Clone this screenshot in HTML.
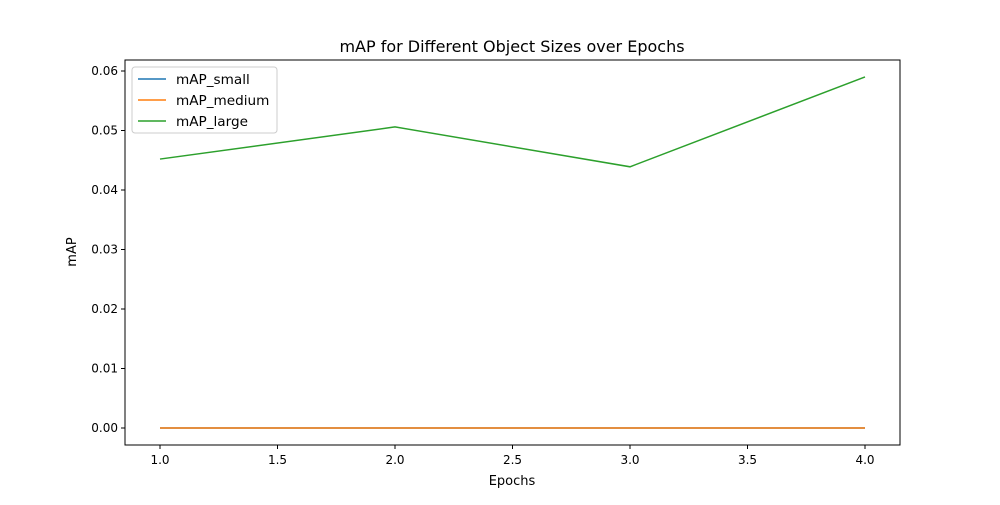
<!DOCTYPE html>
<html><head><meta charset="utf-8"><style>
body{margin:0;background:#fff;font-family:"Liberation Sans","DejaVu Sans",sans-serif;}
text{font-family:"DejaVu Sans","Liberation Sans",sans-serif;}
</style></head><body>
<svg id="c" width="1000" height="500" xmlns="http://www.w3.org/2000/svg"></svg>
<script>
const epochs=[1,2,3,4];
const mapSmall=[0,0,0,0];
const mapMedium=[0,0,0,0];
const mapLarge=[0.0452,0.0506,0.0439,0.0590];
const xTicks=[1.0,1.5,2.0,2.5,3.0,3.5,4.0];
const yTicks=[0,0.01,0.02,0.03,0.04,0.05,0.06];
const L=125,R=900,T=60,B=445;
const sx=v=>160+(v-1)*(865-160)/3;
const sy=v=>428-v*(428-71)/0.06;
const svg=document.getElementById('c');
const NS='http://www.w3.org/2000/svg';
function mk(t,a,txt){const e=document.createElementNS(NS,t);for(const k in a)e.setAttribute(k,a[k]);if(txt!=null)e.textContent=txt;svg.appendChild(e);return e;}
let e;
e=mk('text',{x:512,y:52,'text-anchor':'middle','font-size':16},'mAP for Different Object Sizes over Epochs');


xTicks.forEach(v=>{const x=sx(v);mk('line',{x1:x,x2:x,y1:B,y2:B+4,stroke:'#000'});
e=mk('text',{x:x,y:B+19,'text-anchor':'middle','font-size':12},v.toFixed(1));

});
yTicks.forEach(v=>{const y=sy(v);mk('line',{x1:L-4,x2:L,y1:y,y2:y,stroke:'#000'});
e=mk('text',{x:L-7,y:y+4,'text-anchor':'end','font-size':12},v.toFixed(2));

});
e=mk('text',{x:512,y:485,'text-anchor':'middle','font-size':13},'Epochs');


e=mk('text',{x:76,y:252,'text-anchor':'middle','font-size':13,transform:'rotate(-90 76 252)'},'mAP');


const series=[['mAP_small',mapSmall,'#1f77b4'],['mAP_medium',mapMedium,'#ff7f0e'],['mAP_large',mapLarge,'#2ca02c']];
series.forEach(([n,d,c])=>{e=mk('polyline',{points:d.map((v,i)=>sx(epochs[i])+','+sy(v)).join(' '),fill:'none',stroke:c,'stroke-width':1.5});

});
e=mk('rect',{x:L,y:T,width:R-L,height:B-T,fill:'none',stroke:'#000','stroke-width':1});


e=mk('rect',{x:132,y:67,width:145,height:66,fill:'#fff',stroke:'#ccc',rx:3});


series.forEach(([n,d,c],i)=>{const y=79+i*21;mk('line',{x1:138,x2:166,y1:y,y2:y,stroke:c,'stroke-width':1.5});
e=mk('text',{x:176,y:y+5,'font-size':13.6},n);

});
</script>
</body></html>
